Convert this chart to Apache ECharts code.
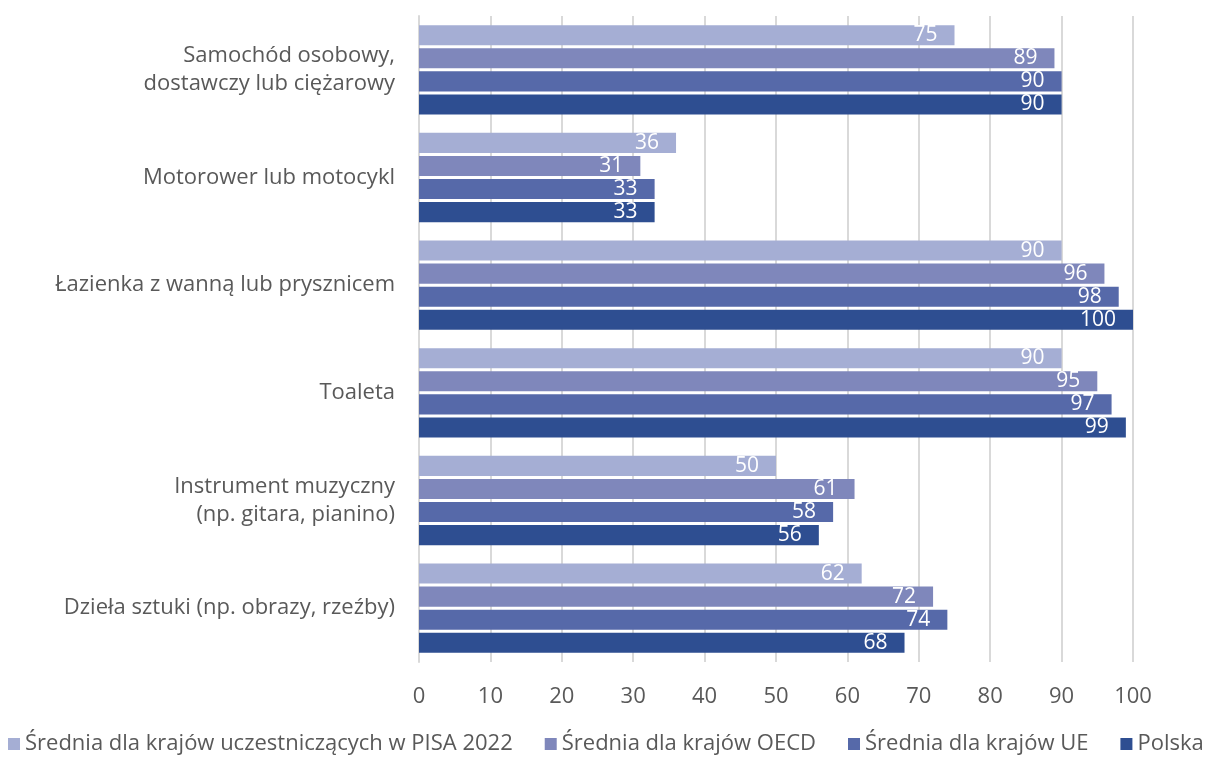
<!DOCTYPE html>
<html><head><meta charset="utf-8">
<script src="https://cdn.jsdelivr.net/npm/echarts@6/dist/echarts.min.js"></script>
<style>html,body{margin:0;padding:0;background:#fff}#c{width:1215px;height:758px}</style>
</head><body><div id="c"></div>
<script>
const categories = ["Samochód osobowy,\ndostawczy lub ciężarowy", "Motorower lub motocykl", "Łazienka z wanną lub prysznicem", "Toaleta", "Instrument muzyczny\n(np. gitara, pianino)", "Dzieła sztuki (np. obrazy, rzeźby)"];
const seriesNames = ["Średnia dla krajów uczestniczących w PISA 2022", "Średnia dla krajów OECD", "Średnia dla krajów UE", "Polska"];
const pisa = [75, 36, 90, 90, 50, 62];
const oecd = [89, 31, 96, 95, 61, 72];
const ue = [90, 33, 98, 97, 58, 74];
const polska = [90, 33, 100, 99, 56, 68];
const xTicks = [0, 10, 20, 30, 40, 50, 60, 70, 80, 90, 100];
const colors = ["#A5AED4", "#7F87BB", "#5669A9", "#2E4E91"];
const values = [pisa, oecd, ue, polska];
const FONT = "'Open Sans', 'Noto Sans', sans-serif";
const chart = echarts.init(document.getElementById('c'));
chart.setOption({
  animation: false,
  color: colors,
  textStyle: {fontFamily: FONT},
  grid: {left: 419, right: 82, top: 16, bottom: 96, containLabel: false},
  legend: {
    top: 733, left: 8, right: 0, padding: 0, itemWidth: 12, itemHeight: 12, itemGap: 32, icon: 'rect',
    textStyle: {fontSize: 22, color: '#595959', fontFamily: FONT},
    data: seriesNames
  },
  xAxis: {
    type: 'value', min: xTicks[0], max: xTicks[xTicks.length - 1], interval: 10,
    axisLine: {show: false}, axisTick: {show: false},
    splitLine: {lineStyle: {color: '#D9D9D9', width: 2}},
    axisLabel: {fontSize: 22, color: '#595959', margin: 24, fontFamily: FONT}
  },
  yAxis: {
    type: 'category', data: categories, inverse: true,
    axisLine: {show: true, lineStyle: {color: '#D9D9D9', width: 2}},
    axisTick: {show: false},
    axisLabel: {fontSize: 22, color: '#595959', margin: 24, align: 'right', lineHeight: 28, fontFamily: FONT}
  },
  series: seriesNames.map((n, i) => ({
    name: n, type: 'bar', data: values[i],
    barGap: '15%', barCategoryGap: '17%',
    itemStyle: {color: colors[i]},
    label: {show: true, position: 'insideRight', color: '#fff', fontSize: 21, distance: 17, fontFamily: FONT}
  }))
});
</script></body></html>
